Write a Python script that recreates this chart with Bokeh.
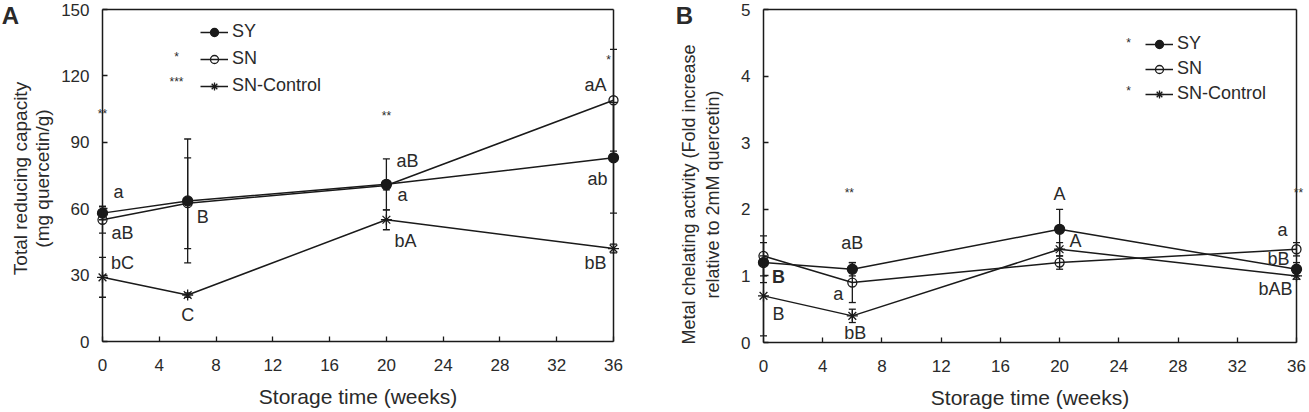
import math
from bokeh.plotting import figure
from bokeh.layouts import row
from bokeh.models import (ColumnDataSource, Whisker, TeeHead, Label, Legend,
                          LegendItem, FixedTicker, Range1d, LinearAxis)
from bokeh.embed import file_html
from bokeh.resources import INLINE

# ---- data -------------------------------------------------------------
weeks = [0, 6, 20, 36]
series_names = ["SY", "SN", "SN-Control"]

# Total reducing capacity (mg quercetin/g)
trc_sy = [58, 63.5, 71, 83]
trc_sy_err = [3, 28, 11.5, 25]
trc_sn = [55, 62.5, 70.5, 109]
trc_sn_err = [6, 20.5, 2, 23]
trc_ctrl = [29, 21, 55, 42]
trc_ctrl_err = [9, 1, 4.5, 2]

# Metal chelating activity (fold increase relative to 2mM quercetin)
mca_sy = [1.2, 1.1, 1.7, 1.1]
mca_sy_err = [0.3, 0.1, 0.3, 0.1]
mca_sn = [1.3, 0.9, 1.2, 1.4]
mca_sn_err = [0.3, 0.3, 0.1, 0.1]
mca_ctrl = [0.7, 0.4, 1.4, 1.0]
mca_ctrl_err = [0.6, 0.1, 0.1, 0.05]

x_ticks = [0, 4, 8, 12, 16, 20, 24, 28, 32, 36]
trc_ticks = [0, 30, 60, 90, 120, 150]
mca_ticks = [0, 1, 2, 3, 4, 5]

FONT = "Liberation Sans"
INK = "#1a1a1a"
TXT = "#2a2a2a"
H = 412

MARKERS = {
    "SY": dict(marker="circle", size=10, fill_color=INK, fill_alpha=1.0),
    "SN": dict(marker="circle", size=9, fill_color="white", fill_alpha=0.0),
    "SN-Control": dict(marker="asterisk", size=11, fill_color=INK, fill_alpha=1.0),
}


def style_axis(ax):
    ax.axis_line_color = INK
    ax.axis_line_width = 1.5
    ax.major_tick_line_color = INK
    ax.major_tick_line_width = 1.3
    ax.major_tick_in = 5
    ax.major_tick_out = 0
    ax.minor_tick_line_color = None
    ax.major_label_text_font = FONT
    ax.major_label_text_font_size = "17px"
    ax.major_label_text_color = TXT


def make_panel(width, left_px, right_px, top_px, bottom_px, y_max, y_ticks, series):
    # the frame fills the whole canvas; the axes sit at fixed data positions inside it
    kx = (right_px - left_px) / 36.0
    ky = (bottom_px - top_px) / y_max
    x_rng = Range1d(-left_px / kx, (width - left_px) / kx)
    y_rng = Range1d(-(H - bottom_px) / ky, y_max + top_px / ky)
    p = figure(width=width, height=H, output_backend="svg", toolbar_location=None,
               x_range=x_rng, y_range=y_rng,
               min_border=0, min_border_left=0, min_border_right=0,
               min_border_top=0, min_border_bottom=0)
    p.xgrid.visible = False
    p.ygrid.visible = False
    p.outline_line_color = None
    p.background_fill_color = "white"
    p.border_fill_color = "white"

    xa, ya = p.xaxis[0], p.yaxis[0]
    style_axis(xa)
    style_axis(ya)
    xa.fixed_location = 0
    ya.fixed_location = 0
    xa.bounds = (0, 36)
    ya.bounds = (0, y_max)
    xa.ticker = FixedTicker(ticks=x_ticks)
    ya.ticker = FixedTicker(ticks=y_ticks)
    ya.major_label_standoff = 13
    xa.major_label_standoff = 17
    xa.axis_label = "Storage time (weeks)"
    xa.axis_label_text_font = FONT
    xa.axis_label_text_font_size = "21px"
    xa.axis_label_text_font_style = "normal"
    xa.axis_label_text_color = TXT
    xa.axis_label_standoff = 11

    # closing lines of the box: top and right
    top = LinearAxis(fixed_location=y_max, bounds=(0, 36), ticker=FixedTicker(ticks=[]))
    right = LinearAxis(fixed_location=36, bounds=(0, y_max), ticker=FixedTicker(ticks=[]))
    for ax in (top, right):
        style_axis(ax)
        ax.major_label_text_font_size = "0px"
    p.add_layout(top, "above")
    p.add_layout(right, "right")

    items = []
    for name, ys, errs in series:
        src = ColumnDataSource(dict(
            x=weeks, y=ys,
            upper=[v + e for v, e in zip(ys, errs)],
            lower=[v - e for v, e in zip(ys, errs)]))
        w = Whisker(base="x", upper="upper", lower="lower", source=src,
                    line_color=INK, line_width=1.3,
                    upper_head=TeeHead(size=7, line_color=INK, line_width=1.3),
                    lower_head=TeeHead(size=7, line_color=INK, line_width=1.3))
        p.add_layout(w)
        ln = p.line("x", "y", source=src, line_color=INK, line_width=1.5)
        m = MARKERS[name]
        sc = p.scatter("x", "y", source=src, marker=m["marker"], size=m["size"],
                       fill_color=m["fill_color"], fill_alpha=m["fill_alpha"],
                       line_color=INK, line_width=1.3)
        items.append(LegendItem(label=name, renderers=[ln, sc]))
    return p, items


def add_text(p, text, x, y, dx=0, dy=0, size="18px", units="data", bold=False,
             angle=0.0, align="center"):
    p.add_layout(Label(x=x, y=y, x_units=units, y_units=units, x_offset=dx, y_offset=dy,
                       text=text, text_font=FONT, text_font_size=size,
                       text_color=TXT, text_align=align, text_baseline="middle",
                       text_font_style="bold" if bold else "normal", angle=angle))


def add_legend(p, items, loc, spacing):
    lg = Legend(items=items, location=loc, border_line_color=None,
                background_fill_alpha=0.0, padding=0, margin=0,
                glyph_width=28, glyph_height=20, label_height=20,
                label_standoff=4, spacing=spacing,
                label_text_font=FONT, label_text_font_size="18px",
                label_text_color=TXT)
    p.add_layout(lg)


# ---- panel A ------------------------------------------------------------
pA, itemsA = make_panel(650, 102, 613, 9, 341, 150, trc_ticks,
                        [("SY", trc_sy, trc_sy_err),
                         ("SN", trc_sn, trc_sn_err),
                         ("SN-Control", trc_ctrl, trc_ctrl_err)])
add_legend(pA, itemsA, (200, 316), 6)

# significance letters next to each point
lettersA = [
    (0, trc_sy[0], "a", 16, 21), (0, trc_sn[0], "aB", 20, -13), (0, trc_ctrl[0], "bC", 20, 14),
    (6, trc_sy[1], "B", 15, -16), (6, trc_ctrl[1], "C", 0, -20),
    (20, trc_sn[2], "aB", 21, 24), (20, trc_sy[2], "a", 16, -11), (20, trc_ctrl[2], "bA", 19, -21),
    (36, trc_sn[3], "aA", -18, 15), (36, trc_sy[3], "ab", -16, -21), (36, trc_ctrl[3], "bB", -18, -14),
]
for x, y, t, dx, dy in lettersA:
    add_text(pA, t, x, y, dx, dy)
for x, y, t, dx in [(0, 103, "**", 0), (20, 102, "**", 0), (36, 127, "*", -5)]:
    add_text(pA, t, x, y, dx, 0, size="12px")

# y-axis title, panel letter and legend stars (screen units from bottom-left)
add_text(pA, "Total reducing capacity", 20, H - 178, units="screen", size="19px", angle=math.pi / 2)
add_text(pA, "(mg quercetin/g)", 42, H - 178, units="screen", size="19px", angle=math.pi / 2)
add_text(pA, "A", 10, H - 15, units="screen", size="24px", bold=True)
add_text(pA, "*", 176, H - 56, units="screen", size="12px")
add_text(pA, "***", 176, H - 81, units="screen", size="12px")

# ---- panel B ------------------------------------------------------------
pB, itemsB = make_panel(659, 113, 646, 9, 342, 5, mca_ticks,
                        [("SY", mca_sy, mca_sy_err),
                         ("SN", mca_sn, mca_sn_err),
                         ("SN-Control", mca_ctrl, mca_ctrl_err)])
add_legend(pB, itemsB, (495, 308), 4)

lettersB = [
    (6, mca_sy[1], "aB", 0, 26), (0, mca_ctrl[0], "B", 15, -18),
    (6, mca_sn[1], "a", -14, -11), (6, mca_ctrl[1], "bB", 3, -17),
    (20, mca_sy[2], "A", 0, 35), (20, mca_ctrl[2], "A", 16, 8),
    (36, mca_sn[3], "a", -14, 19), (36, mca_sy[3], "bB", -18, 10), (36, mca_ctrl[3], "bAB", -21, -13),
]
for x, y, t, dx, dy in lettersB:
    add_text(pB, t, x, y, dx, dy)
add_text(pB, "B", 0, mca_sy[0], 15, -14, bold=True)
for x, y, t, dx in [(6, 2.25, "**", -3), (36, 2.25, "**", 2)]:
    add_text(pB, t, x, y, dx, 0, size="12px")

add_text(pB, "Metal chelating activity (Fold increase", 38, H - 194, units="screen",
         size="18px", angle=math.pi / 2)
add_text(pB, "relative to 2mM quercetin)", 62, H - 194, units="screen", size="18px",
         angle=math.pi / 2)
add_text(pB, "B", 34, H - 15, units="screen", size="24px", bold=True)
add_text(pB, "*", 478, H - 42, units="screen", size="12px")
add_text(pB, "*", 478, H - 90, units="screen", size="12px")

layout = row(pA, pB, spacing=0)
open("out.html", "w").write(file_html(layout, INLINE))
